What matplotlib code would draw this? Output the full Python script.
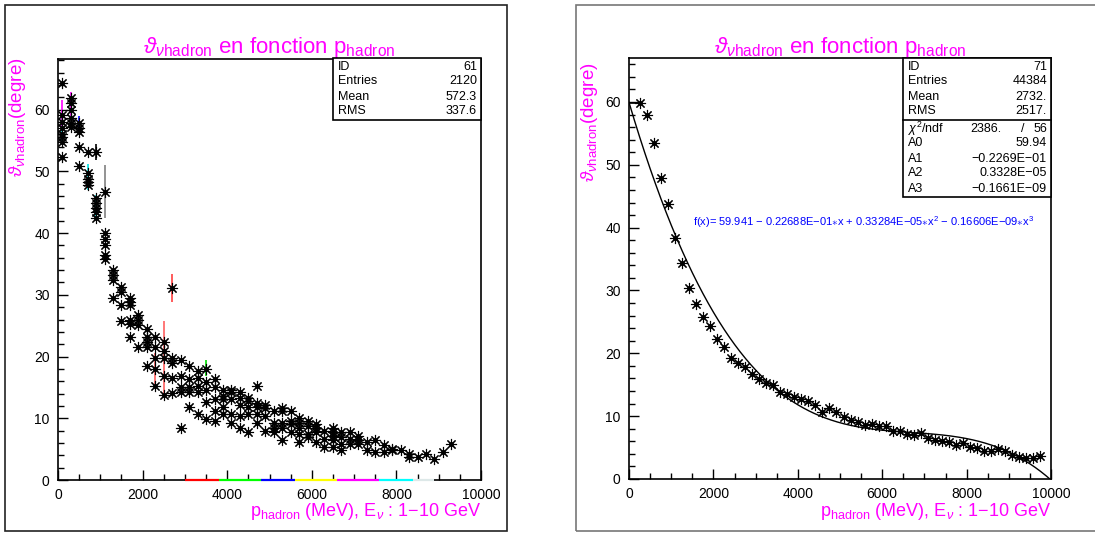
import matplotlib
matplotlib.use('Agg')
import matplotlib.pyplot as plt
import numpy as np
from matplotlib.ticker import MultipleLocator
from matplotlib.patches import Rectangle

plt.rcParams['font.family'] = ['Liberation Sans', 'DejaVu Sans']
plt.rcParams['mathtext.fontset'] = 'custom'
plt.rcParams['mathtext.rm'] = 'Liberation Sans'
plt.rcParams['mathtext.it'] = 'Liberation Sans:italic'

# ---------------- data ----------------
# left panel: profile points grouped in columns of p_hadron (MeV)
left_x_cols = [100, 300, 500, 700, 900, 1100, 1300, 1500, 1700, 1900, 2100, 2300,
               2500, 2700, 2900, 3100, 3300, 3500, 3700, 3900, 4100, 4300, 4500,
               4700, 4900, 5100, 5300, 5500, 5700, 5900, 6100, 6300, 6500, 6700,
               6900, 7100, 7300, 7500, 7700, 7900, 8100, 8300, 8500, 8700, 8900,
               9100, 9300]
left_y_cols = [
    [64.3, 59.2, 58.0, 57.0, 56.0, 55.5, 54.8, 52.4],
    [61.9, 61.0, 60.0, 58.7, 57.8, 57.2],
    [57.9, 57.0, 56.4, 54.0, 50.8],
    [53.2, 49.7, 48.8, 48.2, 47.8],
    [53.2, 45.7, 44.8, 44.0, 43.4, 42.4],
    [46.7, 40.0, 39.0, 38.1, 36.5, 35.8],
    [34.0, 33.2, 32.4, 29.5],
    [31.3, 30.5, 28.4, 25.7],
    [29.5, 28.9, 28.4, 26.0, 25.2, 23.2],
    [26.7, 25.9, 25.1, 21.5],
    [24.5, 23.2, 22.3, 21.5, 18.5],
    [23.2, 21.5, 19.8, 18.0, 15.3],
    [22.3, 20.9, 19.8, 16.9, 13.7],
    [31.1, 19.8, 19.0, 16.6, 14.1],
    [19.5, 16.9, 15.0, 14.2, 8.5],
    [18.5, 16.4, 15.0, 14.2, 11.9],
    [17.7, 16.6, 15.3, 14.2, 10.7],
    [18.0, 15.8, 14.5, 12.6, 9.9],
    [16.4, 15.0, 13.1, 11.2, 9.6],
    [14.5, 13.6, 13.1, 11.9, 10.7],
    [14.6, 14.2, 13.1, 10.7, 9.3],
    [14.2, 13.3, 12.1, 10.4, 8.5],
    [13.3, 12.8, 11.9, 10.7, 7.7],
    [15.3, 12.4, 11.9, 10.7, 9.3],
    [12.1, 11.6, 10.4, 7.9],
    [11.1, 9.2, 8.5, 7.7],
    [11.6, 11.1, 9.3, 8.5, 6.4],
    [11.1, 9.6, 9.1, 7.7],
    [10.0, 9.3, 8.5, 7.4, 6.1],
    [9.6, 8.8, 7.4, 6.9],
    [9.1, 8.5, 7.7, 6.1],
    [7.9, 6.6, 5.3],
    [8.5, 7.7, 7.2, 6.4, 5.3],
    [7.7, 6.9, 5.8, 4.8],
    [7.7, 6.6, 5.8],
    [7.2, 6.4, 5.8],
    [6.2, 4.8],
    [6.4, 4.5],
    [5.6, 4.5],
    [5.0, 4.8],
    [4.8],
    [4.2, 3.7],
    [3.7],
    [4.2],
    [3.4],
    [4.6],
    [5.8],
]
# highlighted error bars on the left panel
err_x = [100, 100, 300, 500, 700, 900, 900, 1100, 2300, 2500, 2700, 3500]
err_y = [57.2, 59.5, 60.9, 57.5, 49.1, 53.2, 44.1, 46.7, 18.0, 19.7, 31.1, 18.2]
err_dy = [2.3, 2.1, 1.9, 1.4, 2.1, 1.3, 2.0, 4.3, 2.5, 6.0, 2.2, 1.3]
err_col = ['#00e0e0', '#ff00ff', '#ff00ff', '#0000ff', '#00e0e0', '#000000',
           '#00e0e0', '#808080', '#ff6060', '#ff6060', '#ff4040', '#00dd00']
# colour segments drawn over the x axis of the left panel
seg_edges = [3000, 3800, 4800, 5600, 6600, 7600, 8400, 8900]
seg_colors = ['#ff0000', '#00ff00', '#0000ff', '#ffff00', '#ff00ff', '#00ffff', '#dde8e8']

# right panel: profile (60 bins of 166.7 MeV)
right_x = [250, 417, 583, 750, 917, 1083, 1250, 1417, 1583, 1750, 1917, 2083,
           2250, 2417, 2583, 2750, 2917, 3083, 3250, 3417, 3583, 3750, 3917,
           4083, 4250, 4417, 4583, 4750, 4917, 5083, 5250, 5417, 5583, 5750,
           5917, 6083, 6250, 6417, 6583, 6750, 6917, 7083, 7250, 7417, 7583,
           7750, 7917, 8083, 8250, 8417, 8583, 8750, 8917, 9083, 9250, 9417,
           9583, 9750]
right_y = [59.8, 57.9, 53.4, 47.9, 43.8, 38.3, 34.3, 30.4, 27.9, 25.8, 24.3, 22.3,
           21.0, 19.2, 18.4, 17.8, 16.7, 15.9, 15.3, 14.9, 13.9, 13.6, 13.0,
           12.7, 12.4, 11.7, 10.7, 11.3, 10.7, 9.9, 9.4, 9.1, 8.6, 8.8,
           8.5, 8.5, 7.7, 7.7, 7.1, 7.0, 7.3, 6.5, 6.2, 6.1, 5.9,
           5.4, 5.8, 5.1, 5.0, 4.5, 4.4, 4.7, 4.5, 3.8, 3.5, 3.4,
           3.4, 3.7]
# third-order polynomial fit parameters A0..A3
fit_params = [59.941, -0.22688e-01, 0.33284e-05, -0.16606e-09]

left_stats = [('ID', '61'), ('Entries', '2120'), ('Mean', '572.3'), ('RMS', '337.6')]
right_stats = [('ID', '71'), ('Entries', '44384'), ('Mean', '2732.'), ('RMS', '2517.')]
right_fit_stats = [('A0', '59.94'), ('A1', '\u22120.2269E\u221201'),
                   ('A2', '0.3328E\u221205'), ('A3', '\u22120.1661E\u221209')]
chi2_text = ('2386.', '/', '56')

# ---------------- figure ----------------
W, H = 1095, 533
fig = plt.figure(figsize=(W / 100, H / 100), dpi=100)


def fx(px):
    return px / W


def fy(py):
    return 1 - py / H


# panel frames
fig.patches.append(Rectangle((fx(5), fy(531)), (507 - 5) / W, (531 - 5) / H,
                             transform=fig.transFigure, fill=False, ec='#222222', lw=1.2))
fig.patches.append(Rectangle((fx(576), fy(531)), (1100 - 576) / W, (531 - 5) / H,
                             transform=fig.transFigure, fill=False, ec='#777777', lw=1.2))

MAG = '#ff00ff'
ax1 = fig.add_axes([fx(58), fy(480), (481 - 58) / W, (480 - 59) / H])
ax2 = fig.add_axes([fx(629), fy(479), (1051 - 629) / W, (479 - 58) / H])


def style_axes(ax, ytop):
    ax.set_xlim(0, 10000)
    ax.set_ylim(0, ytop)
    ax.xaxis.set_major_locator(MultipleLocator(2000))
    ax.xaxis.set_minor_locator(MultipleLocator(500))
    ax.yaxis.set_major_locator(MultipleLocator(10))
    ax.yaxis.set_minor_locator(MultipleLocator(2))
    ax.tick_params(which='both', direction='in', top=False, right=False,
                   labelsize=10, width=1)
    ax.tick_params(which='major', length=7, pad=6)
    ax.tick_params(which='minor', length=4)
    for s in ax.spines.values():
        s.set_linewidth(1.2)
        s.set_color('black')


style_axes(ax1, 68.2)
style_axes(ax2, 67.0)

star = (8, 2, 0)

# ---- left panel ----
lx = [x for x, ys in zip(left_x_cols, left_y_cols) for _ in ys]
ly = [y for ys in left_y_cols for y in ys]
for x, y, dy, c in zip(err_x, err_y, err_dy, err_col):
    ax1.errorbar([x], [y], yerr=[dy], fmt='none', ecolor=c, elinewidth=1.2, zorder=2)
ax1.plot(lx, ly, linestyle='none', marker=star, ms=8, mew=0.8, color='black', zorder=3)
ax1.plot(lx, ly, linestyle='none', marker='o', ms=2.5, color='black', zorder=3)
for (a, b), c in zip(zip(seg_edges[:-1], seg_edges[1:]), seg_colors):
    ax1.plot([a, b], [0, 0], color=c, lw=1.6, solid_capstyle='butt', clip_on=False, zorder=5)

# ---- right panel ----
ax2.errorbar(right_x[:1], right_y[:1], xerr=[[right_x[0]], [0]], fmt='none',
             ecolor='black', elinewidth=1.2, zorder=2)
ax2.plot(right_x, right_y, linestyle='none', marker=star, ms=8, mew=0.8, color='black', zorder=3)
ax2.plot(right_x, right_y, linestyle='none', marker='o', ms=2.5, color='black', zorder=3)
xf = np.linspace(0, 10000, 400)
yf = np.polyval(fit_params[::-1], xf)
ax2.plot(xf, yf, color='black', lw=1.0, zorder=2)

fit_label = ('f(x)= 59.941 \u2212 0.22688E\u221201$\\ast$x + 0.33284E\u221205$\\ast$x$^2$ '
             '\u2212 0.16606E\u221209$\\ast$x$^3$')
fig.text(fx(693), fy(222), fit_label, color='#0000ff', fontsize=8, va='center', ha='left')


# ---- stats boxes ----
FS = 9


def stats_box(x0, x1, y0, rows, extra=None):
    rh = 15
    y1 = y0 + rh * len(rows) + 2
    total_bottom = y1 + (rh * (len(extra) + 1) + 2 if extra else 0)
    fig.patches.append(Rectangle((fx(x0), fy(total_bottom)), (x1 - x0) / W,
                                 (total_bottom - y0) / H, transform=fig.transFigure,
                                 fill=True, fc='white', ec='black', lw=1.2, zorder=10))
    for i, (k, v) in enumerate(rows):
        yy = y0 + 8.5 + rh * i
        fig.text(fx(x0 + 5), fy(yy), k, fontsize=FS, va='center', ha='left', zorder=11)
        fig.text(fx(x1 - 4), fy(yy), v, fontsize=FS, va='center', ha='right', zorder=11)
    if extra:
        fig.add_artist(plt.Line2D([fx(x0), fx(x1)], [fy(y1), fy(y1)],
                                  transform=fig.transFigure, color='black', lw=1.2, zorder=11))
        yy = y1 + 8.5
        fig.text(fx(x0 + 5), fy(yy), r'$\chi^2$/ndf', fontsize=FS, va='center', ha='left', zorder=11)
        fig.text(fx(x0 + 98), fy(yy), chi2_text[0], fontsize=FS, va='center', ha='right', zorder=11)
        fig.text(fx(x0 + 120), fy(yy), chi2_text[1], fontsize=FS, va='center', ha='center', zorder=11)
        fig.text(fx(x1 - 4), fy(yy), chi2_text[2], fontsize=FS, va='center', ha='right', zorder=11)
        for i, (k, v) in enumerate(extra):
            yy = y1 + 8.5 + rh * (i + 1)
            fig.text(fx(x0 + 5), fy(yy), k, fontsize=FS, va='center', ha='left', zorder=11)
            fig.text(fx(x1 - 4), fy(yy), v, fontsize=FS, va='center', ha='right', zorder=11)


stats_box(333, 481, 58, left_stats)
stats_box(903, 1051, 58, right_stats, right_fit_stats)

# ---- titles and labels ----
title = r'$\vartheta_{\nu\mathrm{hadron}}$ en fonction $\mathrm{p}_{\mathrm{hadron}}$'
xlab = r'$\mathrm{p}_{\mathrm{hadron}}$ (MeV), $\mathrm{E}_{\nu}$ : 1$-$10 GeV'
ylab = r'$\vartheta_{\nu\mathrm{hadron}}$(degre)'
for axl, axr, ytop, ylx in ((58, 481, 57, 18), (629, 1051, 62, 590)):
    fig.text(fx((axl + axr) / 2), fy(53), title, color=MAG, fontsize=16,
             ha='center', va='baseline')
    fig.text(fx(axr), fy(516), xlab, color=MAG, fontsize=13, ha='right', va='baseline')
    fig.text(fx(ylx), fy(ytop), ylab, color=MAG, fontsize=13.5, rotation=90,
             ha='center', va='top')

fig.savefig('out.png', dpi=100)
